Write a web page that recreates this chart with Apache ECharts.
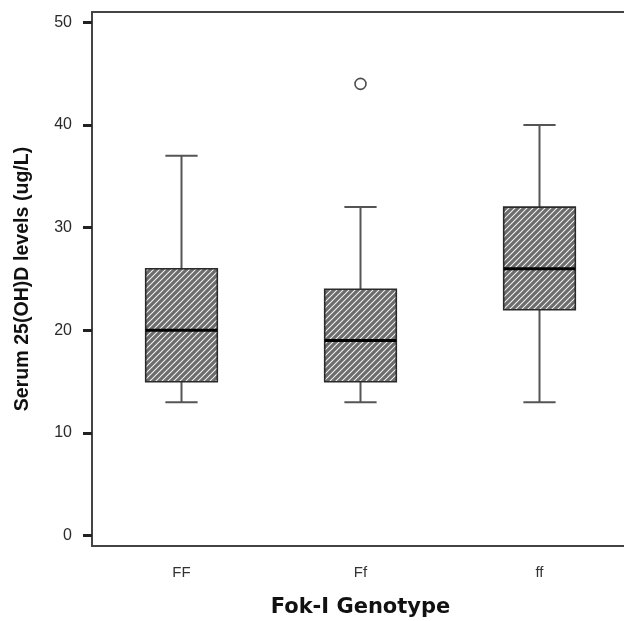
<!DOCTYPE html>
<html>
<head>
<meta charset="utf-8">
<script src="https://cdn.jsdelivr.net/npm/echarts@6/dist/echarts.min.js"></script>
<style>
  html, body { margin: 0; padding: 0; background: #fff; }
  #chart { width: 624px; height: 621px; }
</style>
</head>
<body>
<div id="chart"></div>
<script>
    var genotypes = ['FF', 'Ff', 'ff'];
    // [min, Q1, median, Q3, max] per genotype
    var boxStats = [
        [13, 15, 20, 26, 37],
        [13, 15, 19, 24, 32],
        [13, 22, 26, 32, 40]
    ];
    var outliers = [['Ff', 44]];
    var yTicks = [0, 10, 20, 30, 40, 50];

    // diagonal hatch fill for the boxes
    function makeHatch() {
        var c = document.createElement('canvas');
        c.width = 6;
        c.height = 6;
        var ctx = c.getContext('2d');
        ctx.fillStyle = '#f4f4f4';
        ctx.fillRect(0, 0, 6, 6);
        ctx.strokeStyle = '#6c6c6c';
        ctx.lineWidth = 3.2;
        ctx.beginPath();
        ctx.moveTo(-1, 7); ctx.lineTo(7, -1);
        ctx.moveTo(-4, 4); ctx.lineTo(4, -4);
        ctx.moveTo(2, 10); ctx.lineTo(10, 2);
        ctx.stroke();
        return c;
    }
    var hatch = makeHatch();

    var boxData = boxStats.map(function(s, i) {
        return [i].concat(s);
    });

    function renderBox(params, api) {
        var x = api.value(0);
        var lo = api.coord([x, api.value(1)]);
        var q1 = api.coord([x, api.value(2)]);
        var md = api.coord([x, api.value(3)]);
        var q3 = api.coord([x, api.value(4)]);
        var hi = api.coord([x, api.value(5)]);
        var band = api.size([1, 0])[0];
        var bw = band * 0.4;
        var cw = band * 0.18;
        var cx = lo[0];
        var whisker = { stroke: '#555', lineWidth: 2 };
        return {
            type: 'group',
            children: [
                { type: 'line', shape: { x1: cx, y1: hi[1], x2: cx, y2: q3[1] }, style: whisker },
                { type: 'line', shape: { x1: cx, y1: q1[1], x2: cx, y2: lo[1] }, style: whisker },
                { type: 'line', shape: { x1: cx - cw / 2, y1: hi[1], x2: cx + cw / 2, y2: hi[1] }, style: whisker },
                { type: 'line', shape: { x1: cx - cw / 2, y1: lo[1], x2: cx + cw / 2, y2: lo[1] }, style: whisker },
                {
                    type: 'rect',
                    shape: { x: cx - bw / 2, y: q3[1], width: bw, height: q1[1] - q3[1] },
                    style: { fill: { image: hatch, repeat: 'repeat' }, stroke: '#2a2a2a', lineWidth: 1.6 }
                },
                { type: 'line', shape: { x1: cx - bw / 2, y1: md[1], x2: cx + bw / 2, y2: md[1] }, style: { stroke: '#000', lineWidth: 3 } }
            ]
        };
    }

    var chart = echarts.init(document.getElementById('chart'));
    chart.setOption({
        animation: false,
        backgroundColor: '#fff',
        grid: {
            left: 92,
            top: 12,
            bottom: 75,
            right: -5,
            show: true,
            borderColor: '#444',
            borderWidth: 2,
            outerBoundsMode: 'none'
        },
        xAxis: {
            type: 'category',
            data: genotypes,
            boundaryGap: true,
            name: 'Fok-I Genotype',
            nameLocation: 'middle',
            nameGap: 51,
            nameTextStyle: { fontFamily: 'DejaVu Sans', fontWeight: 'bold', fontSize: 21, color: '#111' },
            axisLine: { onZero: false, lineStyle: { color: '#444', width: 2 } },
            axisTick: { alignWithLabel: true, length: 8, lineStyle: { color: '#222', width: 3 } },
            axisLabel: { margin: 19, fontFamily: 'Liberation Sans', fontSize: 15, color: '#333' },
            splitLine: { show: false }
        },
        yAxis: {
            type: 'value',
            min: -1,
            max: 51,
            name: 'Serum 25(OH)D levels (ug/L)',
            nameLocation: 'middle',
            nameGap: 59,
            nameTextStyle: { fontFamily: 'Liberation Sans', fontWeight: 'bold', fontSize: 19.6, color: '#111' },
            axisLine: { show: true, onZero: false, lineStyle: { color: '#444', width: 2 } },
            axisTick: { show: true, customValues: yTicks, length: 9, lineStyle: { color: '#222', width: 3 } },
            axisLabel: { customValues: yTicks, margin: 20, fontFamily: 'Liberation Sans', fontSize: 16, color: '#2a2a2a' },
            splitLine: { show: false }
        },
        series: [
            {
                type: 'custom',
                data: boxData,
                encode: { x: 0, y: [1, 2, 3, 4, 5] },
                renderItem: renderBox,
                z: 2
            },
            {
                type: 'scatter',
                data: outliers,
                symbol: 'circle',
                symbolSize: 11,
                itemStyle: { color: '#fff', borderColor: '#222', borderWidth: 1.6 },
                z: 3
            }
        ]
    });
</script>
</body>
</html>
